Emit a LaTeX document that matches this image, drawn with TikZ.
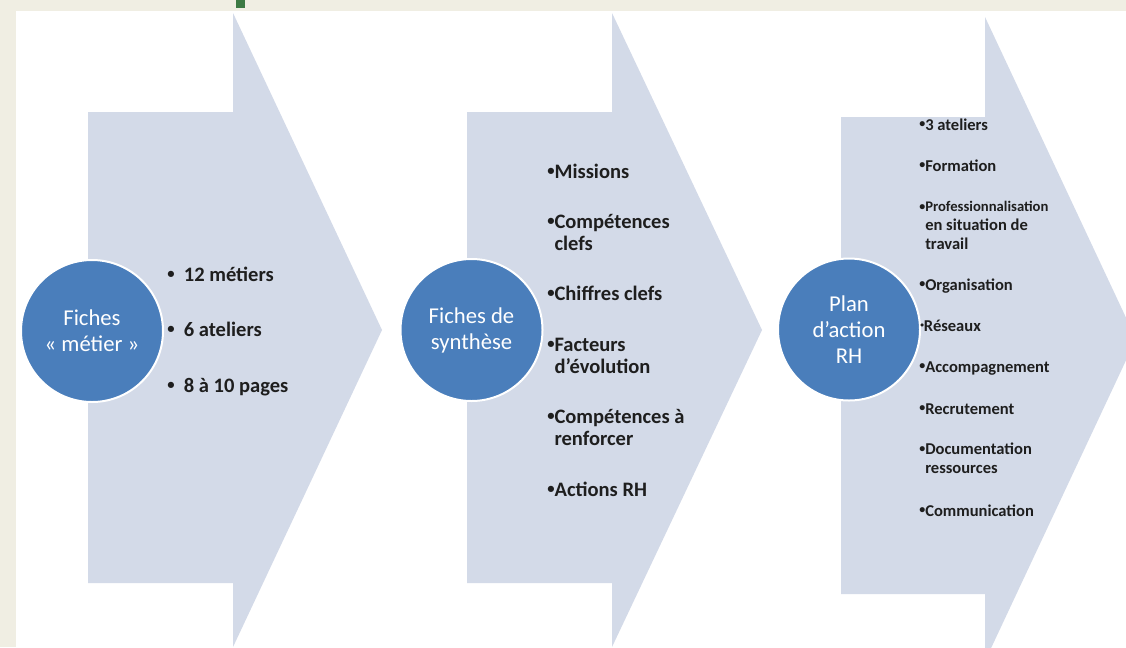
\documentclass[tikz,border=0pt]{standalone}
\usepackage{fontspec}
\setmainfont{Carlito}
\definecolor{bgpage}{HTML}{F0EEE3}
\definecolor{greenmark}{HTML}{3D7A44}
\definecolor{chevfill}{HTML}{D3DAE8}
\definecolor{circfill}{HTML}{4A7EBB}
\definecolor{txtdark}{HTML}{1E1E1E}
\newcommand{\bulA}{\raisebox{0.13em}{\fontsize{11}{11}\selectfont•}}
\newcommand{\bulB}{\raisebox{0.13em}{\fontsize{9}{9}\selectfont•}}
\newcommand{\bulC}{\raisebox{0.2em}{\fontsize{5.5}{5.5}\selectfont•}}
\tikzset{
  chevron/.style={fill=chevfill},
  circ/.style={circle, fill=circfill, draw=white, line width=1.5pt, minimum size=106.5pt, inner sep=0pt,
    text=white, align=center, font=\fontsize{17}{19.5}\selectfont},
  itemA/.style={anchor=base west, inner sep=0pt, text=txtdark, align=left,
    font=\bfseries\fontsize{15.4}{16.5}\selectfont},
  itemB/.style={anchor=base west, inner sep=0pt, text=txtdark, align=left,
    font=\bfseries\fontsize{12.4}{13.9}\selectfont},
}
\begin{document}
\begin{tikzpicture}[x=0.75pt,y=-0.75pt]
\useasboundingbox (0,0) rectangle (1126,647);
\fill[bgpage] (0,0) rectangle (1126,647);
\fill[white] (16,11) rectangle (1126,647);
\fill[greenmark] (236,0) rectangle (245,8);
\begin{scope}
\clip (16,11) rectangle (1126,647);
\fill[chevron] (88,112) -- (233,112) -- (233,13) -- (382,330) -- (233,647) -- (233,583) -- (88,583) -- cycle;
\fill[chevron] (467,112) -- (612,112) -- (612,13) -- (762,330) -- (612,647) -- (612,583) -- (467,583) -- cycle;
\fill[chevron] (841,117) -- (985,117) -- (985,17) -- (1136,339) -- (985,661) -- (985,594) -- (841,594) -- cycle;
\end{scope}

\node[circ] (c1) at (92,331) {Fiches\\«~métier~»};
\node[circ] (c2) at (471.5,330) {Fiches de\\synthèse};
\node[circ] (c3) at (849,329.5) {Plan\\d’action\\RH};

% list 1 (anchors at the baseline of the last line)
\node[itemA] (a1) at (167,281) {\bulA\ \ 12 métiers};
\node[itemA] (a2) at (167,336) {\bulA\ \ 6 ateliers};
\node[itemA] (a3) at (167,392) {\bulA\ \ 8 à 10 pages};

% list 2
\node[itemA] (b1) at (547,178) {\bulA Missions};
\node[itemA] (b2) at (547,250) {\bulA Compétences\\\hphantom{\bulA}clefs};
\node[itemA] (b3) at (547,300) {\bulA Chiffres clefs};
\node[itemA] (b4) at (547,373) {\bulA Facteurs\\\hphantom{\bulA}d’évolution};
\node[itemA] (b5) at (547,445) {\bulA Compétences à\\\hphantom{\bulA}renforcer};
\node[itemA] (b6) at (547,496) {\bulA Actions RH};

% list 3
\node[itemB] (d1) at (919,130) {\bulB 3 ateliers};
\node[itemB] (d2) at (919,171) {\bulB Formation};
\node[itemB] (d3) at (919,249) {{\fontsize{11}{13.9}\selectfont \bulB Professionnalisation}\\\hphantom{\bulB}en situation de\\\hphantom{\bulB}travail};
\node[itemB] (d4) at (919,290) {\bulB Organisation};
\node[itemB] (d5) at (920,331) {\bulC Réseaux};
\node[itemB] (d6) at (919,372) {\bulB Accompagnement};
\node[itemB] (d7) at (919,414) {\bulB Recrutement};
\node[itemB] (d8) at (919,473) {\bulB Documentation\\\hphantom{\bulB}ressources};
\node[itemB] (d9) at (919,516) {\bulB Communication};
\end{tikzpicture}
\end{document}
